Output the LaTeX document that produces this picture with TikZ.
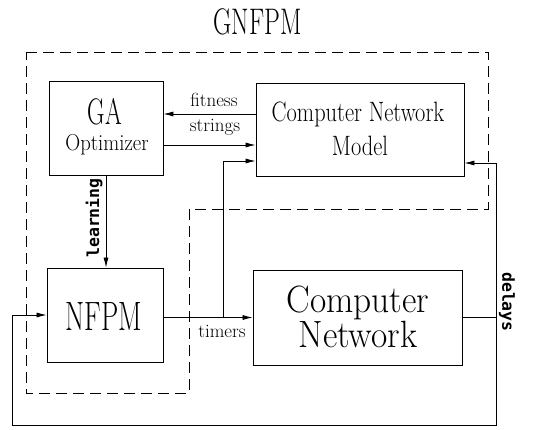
\documentclass[tikz,border=0pt]{standalone}
\usepackage{graphicx}
\usepackage{fontspec}
\newfontfamily\tagfont{DejaVu Sans Mono}
\usetikzlibrary{arrows.meta}
% condensed text: size, horizontal scale, text
\newcommand\condtxt[3]{\scalebox{#2}[1]{\fontsize{#1}{#1}\selectfont #3}}
\begin{document}
\begin{tikzpicture}[x=1pt,y=-1pt,
  blk/.style={draw,line width=0.85pt,inner sep=0pt},
  txt/.style={anchor=base,inner sep=0pt},
  lbl/.style={anchor=base,inner sep=0pt,font=\fontsize{19}{19}\selectfont},
  vlbl/.style={inner sep=0pt,font=\tagfont\bfseries\fontsize{16.5}{17}\selectfont},
  arr/.style={-{Latex[length=10pt,width=5pt]},line width=0.75pt},
  wire/.style={line width=0.75pt},
  bound/.style={line width=0.9pt,dash pattern=on 11pt off 6pt}]
\useasboundingbox (0,0) rectangle (535,430);

% title
\node[txt] (title) at (257.5,35) {\condtxt{37}{0.68}{GNFPM}};

% dashed boundary of the GNFPM system
\draw[bound] (26,52) -- (488,52) -- (488,209) -- (189,209) -- (189,393) -- (26,393) -- cycle;

% blocks
\node[blk,minimum width=114,minimum height=94] (ga)   at (106,128)   {};
\node[blk,minimum width=208,minimum height=93] (cnm)  at (360,129.5) {};
\node[blk,minimum width=116,minimum height=94] (nfpm) at (105,315)   {};
\node[blk,minimum width=209,minimum height=95] (cn)   at (357.5,317.5) {};

% block texts
\node[txt] (gaA) at (105,125) {\condtxt{37}{0.65}{GA}};
\node[txt] (gaB) at (107,151) {\condtxt{23}{0.9}{Optimizer}};
\node[txt] (cnmA) at (358,122) {\condtxt{28}{0.8}{Computer Network}};
\node[txt] (cnmB) at (360,156) {\condtxt{28}{0.8}{Model}};
\node[txt] (nfpmA) at (104,330) {\condtxt{41}{0.67}{NFPM}};
\node[txt] (cnA) at (358,312) {\condtxt{38}{0.93}{Computer}};
\node[txt] (cnB) at (358,347) {\condtxt{38}{0.93}{Network}};

% junction points
\coordinate (jt) at (cn.west -| 223,0);
\coordinate (jd) at (cn.east -| 496,0);
\coordinate (bl) at (12,425);

% connectors
\draw[arr] (cnm.west |- 0,114) -- (ga.east |- 0,114);
\draw[arr] (ga.east |- 0,145) -- (cnm.west |- 0,145);
\draw[arr] (ga.south) -- (ga.south |- nfpm.north);
\draw[arr] (nfpm.east |- cn.west) -- (cn.west);
\draw[arr] (jt) |- (cnm.west |- 0,161);
\draw[wire] (cn.east) -- (jd);
\draw[arr] (jd) |- (cnm.east |- 0,163);
\draw[arr] (jd) -- (jd |- bl) -- (bl) -- (bl |- nfpm.west) -- (nfpm.west);

% connector labels
\node[lbl] (lfit) at (214,107) {fitness};
\node[lbl] (lstr) at (215,132) {strings};
\node[lbl] (ltim) at (222,337) {timers};
\node[vlbl,rotate=90] (llrn) at (94,218) {learning};
\node[vlbl,rotate=-90] (ldel) at (507,302) {delays};
\end{tikzpicture}
\end{document}
